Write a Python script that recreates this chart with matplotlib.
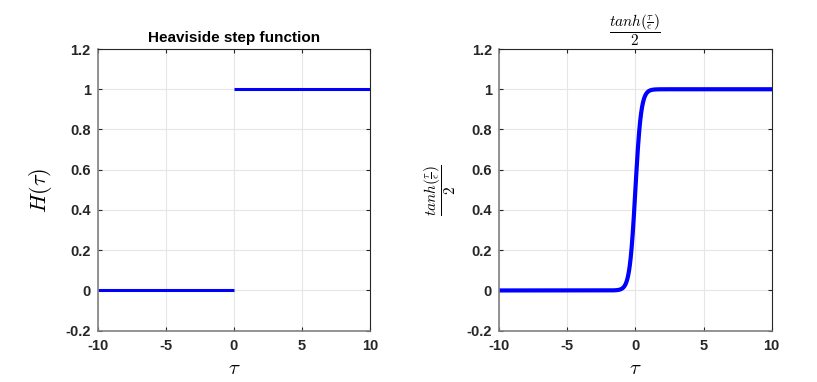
#!/usr/bin/env python3
# -*- coding: utf-8 -*-

import numpy as np
import matplotlib
matplotlib.use('Agg')
import matplotlib.pyplot as plt

plt.rcParams['font.family'] = ['Liberation Sans', 'DejaVu Sans']
plt.rcParams['mathtext.fontset'] = 'cm'

# ----- data -----
x_ticks = [-10, -5, 0, 5, 10]
y_ticks = [-0.2, 0, 0.2, 0.4, 0.6, 0.8, 1, 1.2]
y_tick_labels = ['-0.2', '0', '0.2', '0.4', '0.6', '0.8', '1', '1.2']

step_left_tau = [-10, 0]
step_left_val = [0, 0]
step_right_tau = [0, 10]
step_right_val = [1, 1]

eps = 0.42
tau = np.linspace(-10, 10, 2001)
smooth_val = (1 + np.tanh(tau / eps)) / 2

BLUE = '#0000ff'
GRID = '#e6e6e6'
FRAC = r'$\dfrac{tanh(\frac{\tau}{\epsilon})}{2}$'


def style_axes(ax):
    ax.set_xlim(-10, 10)
    ax.set_ylim(-0.2, 1.2)
    ax.set_xticks(x_ticks)
    ax.set_xticklabels([str(t) for t in x_ticks])
    ax.set_yticks(y_ticks)
    ax.set_yticklabels(y_tick_labels)
    ax.grid(True, color=GRID, linewidth=0.8)
    ax.set_axisbelow(True)
    ax.tick_params(direction='in', top=True, right=True, length=3,
                   labelsize=10.5, colors='#262626', width=0.8)
    ax.tick_params(axis='x', pad=6)
    ax.tick_params(axis='y', pad=5)
    for lab in ax.get_xticklabels() + ax.get_yticklabels():
        lab.set_fontweight('bold')
    for side in ['left', 'bottom']:
        ax.spines[side].set_color('#808080')
        ax.spines[side].set_linewidth(1.2)
    for side in ['top', 'right']:
        ax.spines[side].set_color('#262626')
        ax.spines[side].set_linewidth(0.8)
    ax.set_xlabel(r'$\tau$', fontsize=15, labelpad=4)


fig = plt.figure(figsize=(8.17, 3.82), dpi=100)
ax1 = fig.add_axes([0.1196, 0.1343, 0.3333, 0.7374])
ax2 = fig.add_axes([0.6108, 0.1343, 0.3338, 0.7374])

ax1.plot(step_left_tau, step_left_val, color=BLUE, linewidth=2.2, solid_capstyle='butt')
ax1.plot(step_right_tau, step_right_val, color=BLUE, linewidth=2.2, solid_capstyle='butt')
style_axes(ax1)
ax1.set_title('Heaviside step function', fontsize=11, fontweight='bold', pad=5)
ax1.set_ylabel(r'$H(\tau)$', fontsize=16, labelpad=8)

ax2.plot(tau, smooth_val, color=BLUE, linewidth=3)
style_axes(ax2)
ax2.set_title(FRAC, fontsize=11, pad=9)
ax2.set_ylabel(FRAC, fontsize=11, labelpad=6)

fig.savefig('out.png', dpi=100)
